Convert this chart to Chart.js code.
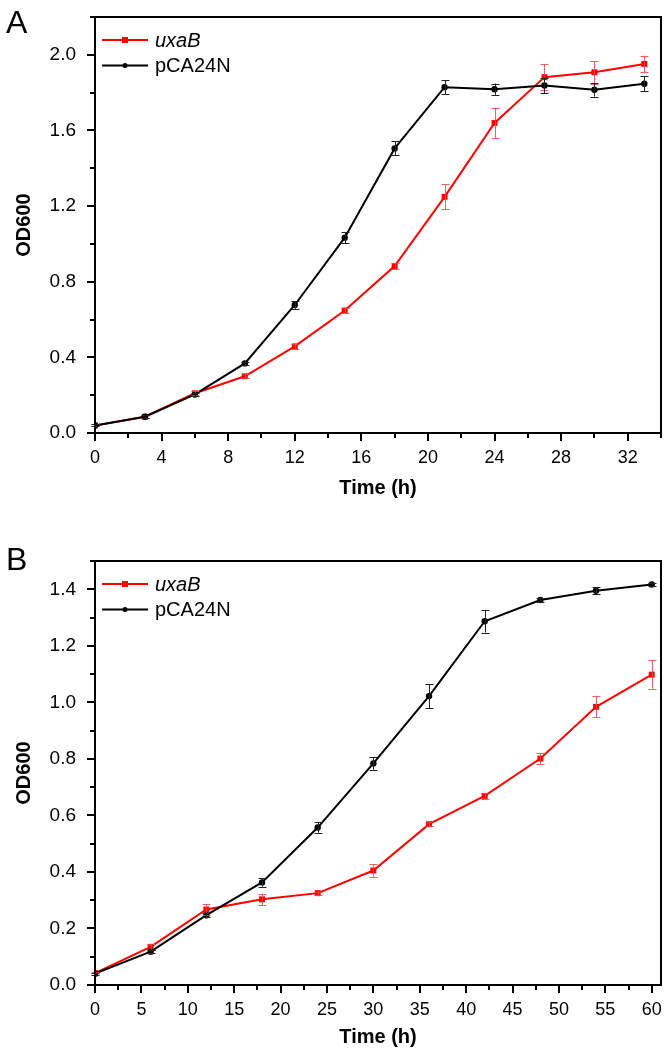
<!DOCTYPE html>
<html lang="en">
<head>
  <meta charset="UTF-8">
  <title>uxaB growth curves</title>
  <script src="https://cdn.jsdelivr.net/npm/chart.js"></script>
  <style>
    body { margin: 0; background: #fff; }
    #wrap { position: relative; width: 670px; height: 1055px; }
    canvas { position: absolute; left: 0; }
  </style>
</head>
<body>
  <div id="wrap">
    <canvas id="chartA" width="670" height="520" style="top:0px"></canvas>
    <canvas id="chartB" width="670" height="535" style="top:520px"></canvas>
  </div>

  <script>
    // Panel A data
    const timeA = [0, 3, 6, 9, 12, 15, 18, 21, 24, 27, 30, 33];
    const uxaA = [0.04, 0.086, 0.21, 0.30, 0.458, 0.648, 0.883, 1.249, 1.64, 1.882, 1.908, 1.952];
    const uxaAErr = [0.005, 0.008, 0.01, 0.01, 0.012, 0.015, 0.015, 0.066, 0.08, 0.07, 0.06, 0.043];
    const pcaA = [0.04, 0.086, 0.204, 0.368, 0.677, 1.033, 1.505, 1.829, 1.818, 1.838, 1.815, 1.847];
    const pcaAErr = [0.005, 0.008, 0.01, 0.01, 0.02, 0.03, 0.037, 0.038, 0.03, 0.04, 0.036, 0.039];
    const xMajorA = [0, 4, 8, 12, 16, 20, 24, 28, 32];
    const yMajorA = [0.0, 0.4, 0.8, 1.2, 1.6, 2.0];

    // Panel B data
    const timeB = [0, 6, 12, 18, 24, 30, 36, 42, 48, 54, 60];
    const uxaB = [0.042, 0.135, 0.267, 0.303, 0.325, 0.405, 0.569, 0.669, 0.801, 0.984, 1.098];
    const uxaBErr = [0.005, 0.01, 0.02, 0.02, 0.005, 0.022, 0.008, 0.01, 0.02, 0.037, 0.05];
    const pcaB = [0.04, 0.118, 0.247, 0.363, 0.557, 0.784, 1.022, 1.287, 1.362, 1.395, 1.417];
    const pcaBErr = [0.004, 0.006, 0.008, 0.015, 0.018, 0.022, 0.042, 0.04, 0.006, 0.012, 0.004];
    const xMajorB = [0, 5, 10, 15, 20, 25, 30, 35, 40, 45, 50, 55, 60];
    const yMajorB = [0.0, 0.2, 0.4, 0.6, 0.8, 1.0, 1.2, 1.4];

    const seriesNames = ['uxaB', 'pCA24N'];

    Chart.defaults.font.family = "'Liberation Sans', Arial, sans-serif";
    Chart.defaults.color = '#000';

    const RED = '#ff0000';
    const BLACK = '#000000';

    function isMajor(v, majors) {
      return majors.some(m => Math.abs(m - v) < 1e-6);
    }

    // tick values every `step` from 0 up to `max`
    function stepTicks(max, step) {
      const out = [];
      for (let i = 0; i * step <= max + 1e-9; i++) out.push({ value: +(i * step).toFixed(4) });
      return out;
    }

    // frame, ticks, error bars, legend and panel letter (Origin look)
    const originStyle = {
      id: 'originStyle',
      afterDatasetsDraw(chart, args, opts) {
        const ctx = chart.ctx;
        const area = chart.chartArea;
        const xs = chart.scales.x, ys = chart.scales.y;

        // error bars
        chart.data.datasets.forEach((ds, di) => {
          const meta = chart.getDatasetMeta(di);
          ctx.save();
          ctx.strokeStyle = ds.errColor;
          ctx.lineWidth = 1;
          meta.data.forEach((pt, i) => {
            const e = ds.errors[i];
            const y = ds.data[i].y;
            const yt = ys.getPixelForValue(y + e);
            const yb = ys.getPixelForValue(y - e);
            const x = Math.round(pt.x) + 0.5;
            ctx.beginPath();
            ctx.moveTo(x, yt); ctx.lineTo(x, yb);
            ctx.moveTo(x - 4, Math.round(yt) + 0.5); ctx.lineTo(x + 4, Math.round(yt) + 0.5);
            ctx.moveTo(x - 4, Math.round(yb) + 0.5); ctx.lineTo(x + 4, Math.round(yb) + 0.5);
            ctx.stroke();
          });
          ctx.restore();
        });

        ctx.save();
        ctx.strokeStyle = '#000';
        ctx.lineWidth = 2;
        ctx.strokeRect(area.left, area.top, area.right - area.left, area.bottom - area.top);

        // x ticks
        ctx.beginPath();
        xs.ticks.forEach(t => {
          const len = isMajor(t.value, opts.xMajor) ? 8 : 5;
          const px = Math.round(xs.getPixelForValue(t.value));
          ctx.moveTo(px, area.bottom);
          ctx.lineTo(px, area.bottom + len);
        });
        // y ticks
        ys.ticks.forEach(t => {
          const len = isMajor(t.value, opts.yMajor) ? 8 : 5;
          const py = Math.round(ys.getPixelForValue(t.value));
          ctx.moveTo(area.left, py);
          ctx.lineTo(area.left - len, py);
        });
        ctx.stroke();

        // legend
        const lx = area.left + 7, ly = area.top + 23;
        chart.data.datasets.forEach((ds, di) => {
          const y = ly + di * 25.5;
          ctx.strokeStyle = ds.borderColor;
          ctx.lineWidth = 2;
          ctx.beginPath();
          ctx.moveTo(lx, y); ctx.lineTo(lx + 46, y);
          ctx.stroke();
          ctx.fillStyle = ds.borderColor;
          if (ds.pointStyle === 'rect') {
            ctx.fillRect(lx + 20, y - 3, 6, 6);
          } else {
            ctx.beginPath();
            ctx.arc(lx + 23, y, 2.5, 0, Math.PI * 2);
            ctx.fill();
          }
          ctx.fillStyle = '#000';
          ctx.textBaseline = 'middle';
          ctx.font = (di === 0 ? 'italic ' : '') + "20px 'Liberation Sans', Arial, sans-serif";
          ctx.fillText(ds.label, lx + 53, y + 1);
        });

        // panel letter
        ctx.fillStyle = '#000';
        ctx.textBaseline = 'alphabetic';
        ctx.font = "32px 'Liberation Sans', Arial, sans-serif";
        ctx.fillText(opts.letter, 6, opts.letterY);
        ctx.restore();
      }
    };

    function makePanel(id, time, red, redErr, black, blackErr, p) {
      const fmt = v => v.toFixed(1);
      return new Chart(document.getElementById(id), {
        type: 'line',
        data: {
          datasets: [
            {
              label: seriesNames[0],
              data: time.map((t, i) => ({ x: t, y: red[i] })),
              errors: redErr,
              errColor: 'rgba(235, 70, 70, 0.85)',
              borderColor: RED,
              backgroundColor: RED,
              borderWidth: 2,
              pointStyle: 'rect',
              pointRadius: 4.2,
              pointBorderWidth: 0,
              order: 1
            },
            {
              label: seriesNames[1],
              data: time.map((t, i) => ({ x: t, y: black[i] })),
              errors: blackErr,
              errColor: '#222',
              borderColor: BLACK,
              backgroundColor: BLACK,
              borderWidth: 2,
              pointStyle: 'circle',
              pointRadius: 3.2,
              pointBorderWidth: 0,
              order: 0
            }
          ]
        },
        options: {
          responsive: false,
          animation: false,
          devicePixelRatio: 1,
          layout: { padding: { left: 0, right: 9, top: p.top, bottom: 0 } },
          plugins: {
            legend: { display: false },
            tooltip: { enabled: false },
            originStyle: {
              xMajor: p.xMajor, yMajor: p.yMajor,
              letter: p.letter, letterY: p.letterY
            }
          },
          scales: {
            x: {
              type: 'linear',
              min: 0, max: p.xMax,
              grid: { display: false },
              border: { display: false },
              afterBuildTicks: s => { s.ticks = stepTicks(p.xMax, p.xStep); },
              afterFit: s => {
                s.height = p.xAxisH;
                s.paddingLeft = 0; s.paddingRight = 0;
              },
              ticks: {
                autoSkip: false,
                maxRotation: 0,
                padding: 6,
                font: { size: 18 },
                callback: v => isMajor(v, p.xMajor) ? String(Math.round(v)) : ''
              },
              title: {
                display: true,
                text: 'Time (h)',
                font: { size: 20, weight: 'bold' },
                padding: { top: 0, bottom: p.titleBottom }
              }
            },
            y: {
              type: 'linear',
              min: 0, max: p.yMax,
              grid: { display: false },
              border: { display: false },
              afterBuildTicks: s => { s.ticks = stepTicks(p.yMax, p.yStep); },
              afterFit: s => {
                s.width = 95;
                s.paddingTop = 0; s.paddingBottom = 0;
              },
              ticks: {
                autoSkip: false,
                padding: 11,
                font: { size: 19 },
                callback: v => isMajor(v, p.yMajor) ? fmt(v) : ''
              },
              title: {
                display: true,
                text: 'OD600',
                font: { size: 20, weight: 'bold' },
                padding: { top: 12, bottom: 0 }
              }
            }
          }
        },
        plugins: [originStyle]
      });
    }

    makePanel('chartA', timeA, uxaA, uxaAErr, pcaA, pcaAErr, {
      top: 17, xAxisH: 87, titleBottom: 20,
      xMax: 34, xStep: 2, xMajor: xMajorA,
      yMax: 2.2, yStep: 0.2, yMajor: yMajorA,
      letter: 'A', letterY: 33
    });

    makePanel('chartB', timeB, uxaB, uxaBErr, pcaB, pcaBErr, {
      top: 41, xAxisH: 70, titleBottom: 6,
      xMax: 61, xStep: 2.5, xMajor: xMajorB,
      yMax: 1.5, yStep: 0.1, yMajor: yMajorB,
      letter: 'B', letterY: 50
    });
  </script>
</body>
</html>
